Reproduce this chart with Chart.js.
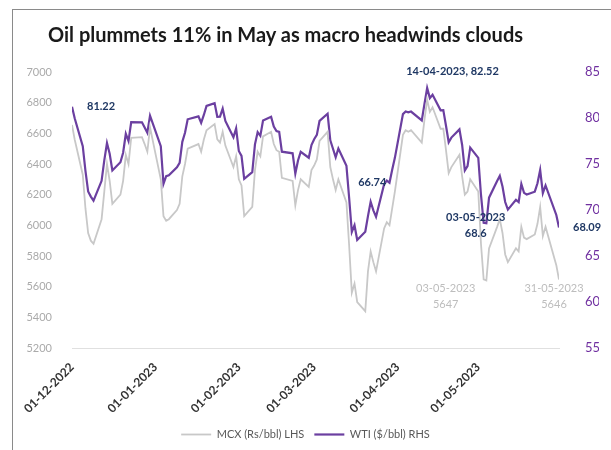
<!DOCTYPE html>
<html>
<head>
<meta charset="utf-8">
<script src="https://cdn.jsdelivr.net/npm/chart.js@4"></script>
<style>
  html, body { margin: 0; padding: 0; background: #fff; }
  #wrap { position: relative; width: 611px; height: 450px; overflow: hidden; }
  canvas { position: absolute; left: 0; top: 0; }
  #frame { position: absolute; left: 12px; top: 9px; width: 700px; height: 600px;
           border-left: 1.5px solid #8a8a8a; border-top: 1.5px solid #8a8a8a; pointer-events: none; }
  #title { position: absolute; left: 48px; top: 22px; font: bold 20px Lato, sans-serif;
           color: #1a1a1a; white-space: nowrap; }
</style>
</head>
<body>
<div id="wrap">
  <canvas id="oilChart" width="611" height="450"></canvas>
  <div id="frame"></div>
  <div id="title">Oil plummets 11% in May as macro headwinds clouds</div>
</div>
<script>
// trading days, Dec 2022 - May 2023
const dates = [
  '01-12-2022','02-12-2022','05-12-2022','06-12-2022','07-12-2022','08-12-2022','09-12-2022','12-12-2022','13-12-2022','14-12-2022','15-12-2022','16-12-2022','19-12-2022','20-12-2022','21-12-2022','22-12-2022','23-12-2022','27-12-2022','28-12-2022','29-12-2022','30-12-2022',
  '03-01-2023','04-01-2023','05-01-2023','06-01-2023','09-01-2023','10-01-2023','11-01-2023','12-01-2023','13-01-2023','17-01-2023','18-01-2023','19-01-2023','20-01-2023','23-01-2023','24-01-2023','25-01-2023','26-01-2023','27-01-2023','30-01-2023','31-01-2023',
  '01-02-2023','02-02-2023','03-02-2023','06-02-2023','07-02-2023','08-02-2023','09-02-2023','10-02-2023','13-02-2023','14-02-2023','15-02-2023','16-02-2023','17-02-2023','21-02-2023','22-02-2023','23-02-2023','24-02-2023','27-02-2023','28-02-2023',
  '01-03-2023','02-03-2023','03-03-2023','06-03-2023','07-03-2023','08-03-2023','09-03-2023','10-03-2023','13-03-2023','14-03-2023','15-03-2023','16-03-2023','17-03-2023','20-03-2023','21-03-2023','22-03-2023','23-03-2023','24-03-2023','27-03-2023','28-03-2023','29-03-2023','30-03-2023','31-03-2023',
  '03-04-2023','04-04-2023','05-04-2023','06-04-2023','10-04-2023','11-04-2023','12-04-2023','13-04-2023','14-04-2023','17-04-2023','18-04-2023','19-04-2023','20-04-2023','21-04-2023','24-04-2023','25-04-2023','26-04-2023','27-04-2023','28-04-2023',
  '01-05-2023','02-05-2023','03-05-2023','04-05-2023','05-05-2023','08-05-2023','09-05-2023','10-05-2023','11-05-2023','12-05-2023','15-05-2023','16-05-2023','17-05-2023','18-05-2023','19-05-2023','22-05-2023','23-05-2023','24-05-2023','25-05-2023','26-05-2023','30-05-2023','31-05-2023'
];

// WTI ($/bbl), right axis
const wti = [
  81.22, 79.98, 76.93, 74.25, 72.01, 71.46, 71.02, 73.17, 75.39, 77.28, 76.11, 74.29, 75.19, 76.23, 78.29, 77.49, 79.56, 79.53, 78.96, 78.40, 80.26,
  76.93, 72.84, 73.67, 73.77, 74.63, 75.12, 77.41, 78.39, 79.86, 80.18, 79.48, 80.33, 81.31, 81.62, 80.13, 80.15, 81.01, 79.68, 77.90, 78.87,
  76.41, 75.88, 73.39, 74.11, 77.14, 78.47, 78.06, 79.72, 80.14, 79.06, 78.59, 78.49, 76.34, 76.16, 73.95, 75.39, 76.32, 75.68, 77.05,
  77.69, 78.16, 79.68, 80.46, 77.58, 76.66, 75.72, 76.68, 74.80, 71.33, 67.61, 68.35, 66.74, 67.64, 69.33, 70.90, 69.96, 69.26, 72.81, 73.20, 72.97, 74.37, 75.67,
  80.42, 80.71, 80.61, 80.70, 79.74, 81.53, 83.26, 82.16, 82.52, 80.83, 80.86, 79.16, 77.37, 77.87, 78.76, 77.07, 74.30, 74.76, 76.78,
  75.66, 71.66, 68.60, 68.56, 71.34, 73.16, 73.71, 72.56, 70.87, 70.04, 71.11, 70.86, 72.83, 71.86, 71.69, 71.99, 72.91, 74.34, 71.83, 72.67, 69.46, 68.09
];

// MCX crude (Rs/bbl), left axis
const mcx = [
  6655, 6560, 6330, 6110, 5950, 5900, 5880, 6040, 6220, 6400, 6290, 6140, 6200, 6290, 6460, 6400, 6570, 6575, 6530, 6480, 6640,
  6300, 6060, 6030, 6040, 6100, 6140, 6320, 6400, 6500, 6530, 6480, 6560, 6620, 6660, 6560, 6540, 6610, 6520, 6380, 6450,
  6300, 6260, 6060, 6120, 6360, 6480, 6450, 6580, 6610, 6530, 6490, 6480, 6310, 6290, 6130, 6230, 6300, 6250, 6360,
  6390, 6430, 6550, 6610, 6380, 6300, 6230, 6300, 6150, 5870, 5560, 5620, 5500, 5440, 5700, 5830, 5760, 5700, 5980, 6020, 6000, 6110, 6220,
  6590, 6620, 6610, 6620, 6540, 6690, 6820, 6740, 6770, 6630, 6630, 6490, 6340, 6380, 6460, 6320, 6200, 6220, 6300,
  6220, 5880, 5647, 5640, 5850, 5990, 6040, 5950, 5810, 5760, 5850, 5830, 5990, 5920, 5910, 5940, 6010, 6120, 5930, 5990, 5740, 5646
];

const tickDates = ['01-12-2022', '01-01-2023', '01-02-2023', '01-03-2023', '01-04-2023', '01-05-2023'];

// data labels
const noteDates = ['01-12-2022', '14-04-2023', '17-03-2023', '03-05-2023', '31-05-2023', '03-05-2023', '31-05-2023'];
const noteTexts = [
  ['81.22'],
  ['14-04-2023, 82.52'],
  ['66.74'],
  ['03-05-2023', '68.6'],
  ['68.09'],
  ['03-05-2023', '5647'],
  ['31-05-2023', '5646']
];

function dayNum(s) {
  const [d, m, y] = s.split('-').map(Number);
  return Date.UTC(y, m - 1, d) / 86400000;
}
const day0 = dayNum(dates[0]);
const xs = dates.map(d => dayNum(d) - day0);

const navy = '#1f3864';
const lightGray = '#bdbdbd';
const noteStyles = [
  { ds: 1, dx: 15, dy: 0, align: 'left', color: navy, bold: true },
  { ds: 1, dx: 20, dy: -23, align: 'center', color: navy, bold: true },
  { ds: 1, dx: 1, dy: -58, align: 'left', color: navy, bold: true },
  { ds: 1, dx: -8, dy: -5, align: 'center', color: navy, bold: true },
  { ds: 1, dx: 14, dy: 0, align: 'left', color: navy, bold: true },
  { ds: 0, dx: -38, dy: 9, align: 'center', color: lightGray, bold: false },
  { ds: 0, dx: -5, dy: 9, align: 'center', color: lightGray, bold: false }
];

const notesPlugin = {
  id: 'notes',
  afterDatasetsDraw(chart) {
    const ctx = chart.ctx;
    ctx.save();
    ctx.textBaseline = 'middle';
    noteDates.forEach((d, i) => {
      const st = noteStyles[i];
      const pt = chart.getDatasetMeta(st.ds).data[dates.indexOf(d)];
      ctx.font = (st.bold ? 'bold ' : '') + '11px Lato, sans-serif';
      ctx.fillStyle = st.color;
      ctx.textAlign = st.align;
      noteTexts[i].forEach((line, j) => {
        ctx.fillText(line, pt.x + st.dx, pt.y + st.dy + j * 16);
      });
    });
    ctx.restore();
  }
};

const ctx = document.getElementById('oilChart').getContext('2d');
new Chart(ctx, {
  type: 'line',
  data: {
    datasets: [
      {
        label: 'MCX (Rs/bbl) LHS',
        data: xs.map((x, i) => ({ x, y: mcx[i] })),
        yAxisID: 'y',
        borderColor: '#c8c8c8',
        backgroundColor: '#c8c8c8',
        borderWidth: 1.8,
        pointRadius: 0,
        tension: 0
      },
      {
        label: 'WTI ($/bbl) RHS',
        data: xs.map((x, i) => ({ x, y: wti[i] })),
        yAxisID: 'y1',
        borderColor: '#6b3fa0',
        backgroundColor: '#6b3fa0',
        borderWidth: 2.2,
        pointRadius: 0,
        tension: 0
      }
    ]
  },
  options: {
    responsive: false,
    animation: false,
    devicePixelRatio: 1,
    layout: { padding: { left: 12, right: 12, top: 72, bottom: 0 } },
    plugins: {
      legend: {
        position: 'bottom',
        labels: {
          usePointStyle: true,
          pointStyle: 'line',
          pointStyleWidth: 30,
          padding: 10,
          color: '#595959',
          font: { family: 'Lato', size: 11 }
        }
      },
      tooltip: { enabled: false }
    },
    scales: {
      x: {
        type: 'linear',
        min: 0,
        max: xs[xs.length - 1],
        grid: { display: false },
        border: { color: '#e0e0e0' },
        afterBuildTicks: s => { s.ticks = tickDates.map(d => ({ value: dayNum(d) - day0 })); },
        afterFit: s => { s.height = 71; },
        ticks: {
          autoSkip: false,
          minRotation: 45,
          maxRotation: 45,
          padding: 4,
          color: '#333',
          font: { family: 'Lato', size: 12, weight: 'bold' },
          callback: v => tickDates.find(d => dayNum(d) - day0 === v) || ''
        }
      },
      y: {
        position: 'left',
        min: 5200,
        max: 7000,
        grid: { display: false },
        border: { display: false },
        afterFit: s => { s.width = 60; },
        ticks: {
          stepSize: 200,
          padding: 12,
          color: '#aaaaaa',
          font: { family: 'Lato', size: 11 },
          callback: v => String(v)
        }
      },
      y1: {
        position: 'right',
        min: 55,
        max: 85,
        grid: { display: false },
        border: { display: false },
        afterFit: s => { s.width = 40; },
        ticks: {
          stepSize: 5,
          padding: 18,
          color: '#7030a0',
          font: { family: 'Lato', size: 13 }
        }
      }
    }
  },
  plugins: [notesPlugin]
});
</script>
</body>
</html>
